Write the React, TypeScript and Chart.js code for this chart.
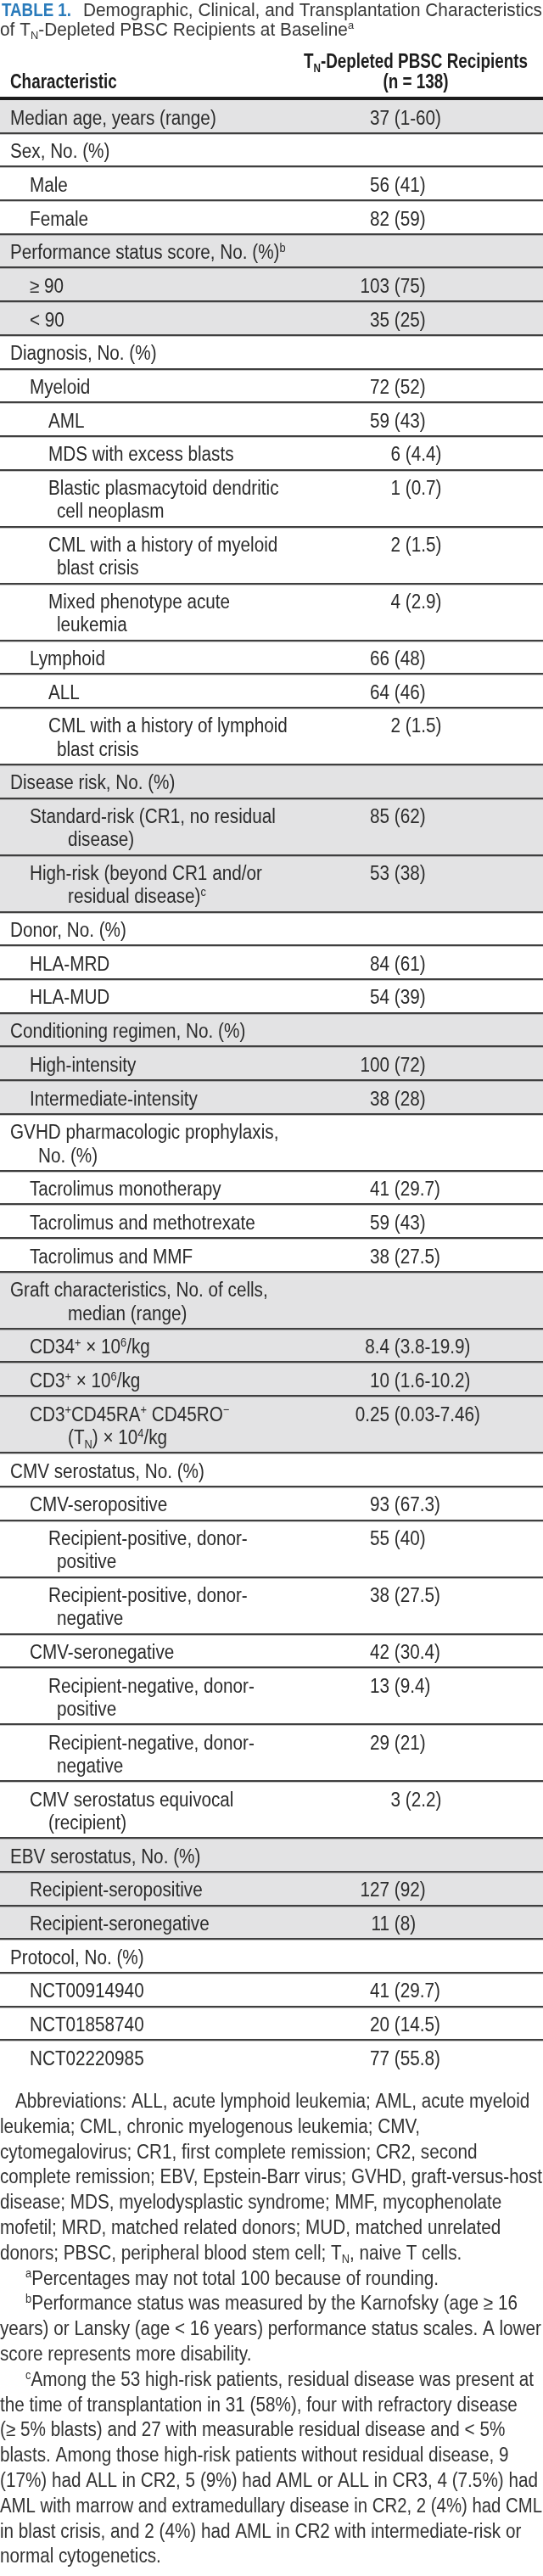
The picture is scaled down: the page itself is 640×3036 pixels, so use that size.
import React, { useEffect, useRef } from "react";
import { Chart, registerables } from "chart.js";

Chart.register(...registerables);

// ---------------- DATA ----------------
const titleLead = "TABLE 1.";
const titleLine1 = "Demographic, Clinical, and Transplantation Characteristics";
const titleLine2 = "of T_{N}-Depleted PBSC Recipients at Baseline^{a}";

const headerCharacteristic = "Characteristic";
const headerGroup = "T_{N}-Depleted PBSC Recipients";
const headerN = "(n = 138)";

const rowLabels = [
  "Median age, years (range)",
  "Sex, No. (%)",
  "Male",
  "Female",
  "Performance status score, No. (%)^{b}",
  "≥ 90",
  "< 90",
  "Diagnosis, No. (%)",
  "Myeloid",
  "AML",
  "MDS with excess blasts",
  "Blastic plasmacytoid dendritic\ncell neoplasm",
  "CML with a history of myeloid\nblast crisis",
  "Mixed phenotype acute\nleukemia",
  "Lymphoid",
  "ALL",
  "CML with a history of lymphoid\nblast crisis",
  "Disease risk, No. (%)",
  "Standard-risk (CR1, no residual\ndisease)",
  "High-risk (beyond CR1 and/or\nresidual disease)^{c}",
  "Donor, No. (%)",
  "HLA-MRD",
  "HLA-MUD",
  "Conditioning regimen, No. (%)",
  "High-intensity",
  "Intermediate-intensity",
  "GVHD pharmacologic prophylaxis,\nNo. (%)",
  "Tacrolimus monotherapy",
  "Tacrolimus and methotrexate",
  "Tacrolimus and MMF",
  "Graft characteristics, No. of cells,\nmedian (range)",
  "CD34^{+} × 10^{6}/kg",
  "CD3^{+} × 10^{6}/kg",
  "CD3^{+}CD45RA^{+} CD45RO^{−}\n(T_{N}) × 10^{4}/kg",
  "CMV serostatus, No. (%)",
  "CMV-seropositive",
  "Recipient-positive, donor-\npositive",
  "Recipient-positive, donor-\nnegative",
  "CMV-seronegative",
  "Recipient-negative, donor-\npositive",
  "Recipient-negative, donor-\nnegative",
  "CMV serostatus equivocal\n(recipient)",
  "EBV serostatus, No. (%)",
  "Recipient-seropositive",
  "Recipient-seronegative",
  "Protocol, No. (%)",
  "NCT00914940",
  "NCT01858740",
  "NCT02220985",
];

const rowLevels = [
  0, 0, 1, 1, 0, 1, 1, 0, 1, 2, 2, 2, 2, 2, 1, 2, 2, 0, 1, 1, 0, 1, 1, 0, 1, 1,
  0, 1, 1, 1, 0, 1, 1, 1, 0, 1, 2, 2, 1, 2, 2, 1, 0, 1, 1, 0, 1, 1, 1,
];

const rowValues = [
  "37 (1-60)",
  "",
  "56 (41)",
  "82 (59)",
  "",
  "103 (75)",
  "35 (25)",
  "",
  "72 (52)",
  "59 (43)",
  "6 (4.4)",
  "1 (0.7)",
  "2 (1.5)",
  "4 (2.9)",
  "66 (48)",
  "64 (46)",
  "2 (1.5)",
  "",
  "85 (62)",
  "53 (38)",
  "",
  "84 (61)",
  "54 (39)",
  "",
  "100 (72)",
  "38 (28)",
  "",
  "41 (29.7)",
  "59 (43)",
  "38 (27.5)",
  "",
  "8.4 (3.8-19.9)",
  "10 (1.6-10.2)",
  "0.25 (0.03-7.46)",
  "",
  "93 (67.3)",
  "55 (40)",
  "38 (27.5)",
  "42 (30.4)",
  "13 (9.4)",
  "29 (21)",
  "3 (2.2)",
  "",
  "127 (92)",
  "11 (8)",
  "",
  "41 (29.7)",
  "20 (14.5)",
  "77 (55.8)",
];

const footnoteAbbrev = [
  "Abbreviations: ALL, acute lymphoid leukemia; AML, acute myeloid",
  "leukemia; CML, chronic myelogenous leukemia; CMV,",
  "cytomegalovirus; CR1, first complete remission; CR2, second",
  "complete remission; EBV, Epstein-Barr virus; GVHD, graft-versus-host",
  "disease; MDS, myelodysplastic syndrome; MMF, mycophenolate",
  "mofetil; MRD, matched related donors; MUD, matched unrelated",
  "donors; PBSC, peripheral blood stem cell; T_{N}, naive T cells.",
];
const footnoteA = ["^{a}Percentages may not total 100 because of rounding."];
const footnoteB = [
  "^{b}Performance status was measured by the Karnofsky (age ≥ 16",
  "years) or Lansky (age < 16 years) performance status scales. A lower",
  "score represents more disability.",
];
const footnoteC = [
  "^{c}Among the 53 high-risk patients, residual disease was present at",
  "the time of transplantation in 31 (58%), four with refractory disease",
  "(≥ 5% blasts) and 27 with measurable residual disease and < 5%",
  "blasts. Among those high-risk patients without residual disease, 9",
  "(17%) had ALL in CR2, 5 (9%) had AML or ALL in CR3, 4 (7.5%) had",
  "AML with marrow and extramedullary disease in CR2, 2 (4%) had CML",
  "in blast crisis, and 2 (4%) had AML in CR2 with intermediate-risk or",
  "normal cytogenetics.",
];

// ---------------- STYLE / LAYOUT ----------------
const W = 640;
const H = 3036;
const FAMILY = '"Liberation Sans", Arial, Helvetica, sans-serif';
const TEXT = "#2b2b2b";
const SHADE = "#e3e3e4";
const BLUE = "#2a7bbb";
const HEADER_BOTTOM = 117;
const TABLE_BOTTOM = 2444;
const SINGLE_ROW_PX = 39.7;
const EXTRA_LINE_PX = 27.3;
const EXTRA = EXTRA_LINE_PX / SINGLE_ROW_PX; // extra units for wrapped line
const BODY_SIZE = 23;
const BODY_SX = 0.9;
const BOLD_SX = 0.82;
const FIRST_BASE = 29.5;
const LEVEL_X = [12, 35, 57];
const WRAP_X = [80, 80, 67];
const WRAP_X_OVERRIDE: Record<number, number> = { 26: 45, 41: 57 };
const VALUE_NUM_RIGHT = 459;
const SINGLE_DIGIT_SHIFT = 13;
const HEADER_CENTER = 490;

type Seg = { t: string; k: number };
function parseRich(s: string): Seg[] {
  const out: Seg[] = [];
  const re = /(\^\{[^}]*\}|_\{[^}]*\})/g;
  let last = 0;
  let m: RegExpExecArray | null;
  while ((m = re.exec(s))) {
    if (m.index > last) out.push({ t: s.slice(last, m.index), k: 0 });
    out.push({ t: m[0].slice(2, -1), k: m[0][0] === "^" ? 1 : 2 });
    last = m.index + m[0].length;
  }
  if (last < s.length) out.push({ t: s.slice(last), k: 0 });
  return out;
}

type F = { size: number; bold?: boolean; sx: number; color: string };
function fontStr(size: number, bold?: boolean) {
  return `${bold ? "bold " : ""}${size}px ${FAMILY}`;
}
function richWidth(ctx: CanvasRenderingContext2D, s: string, f: F) {
  let w = 0;
  for (const seg of parseRich(s)) {
    const sz = seg.k ? f.size * 0.62 : f.size;
    ctx.font = fontStr(sz, f.bold);
    w += ctx.measureText(seg.t).width * f.sx;
  }
  return w;
}
function drawRich(ctx: CanvasRenderingContext2D, s: string, x: number, y: number, f: F) {
  let cx = x;
  ctx.fillStyle = f.color;
  ctx.textBaseline = "alphabetic";
  ctx.textAlign = "left";
  for (const seg of parseRich(s)) {
    const sz = seg.k ? f.size * 0.62 : f.size;
    const dy = seg.k === 1 ? -f.size * 0.36 : seg.k === 2 ? f.size * 0.2 : 0;
    ctx.font = fontStr(sz, f.bold);
    const w = ctx.measureText(seg.t).width;
    ctx.save();
    ctx.translate(cx, y + dy);
    ctx.scale(f.sx, 1);
    ctx.fillText(seg.t, 0, 0);
    ctx.restore();
    cx += w * f.sx;
  }
  return cx - x;
}

export default function App() {
  const ref = useRef<HTMLCanvasElement | null>(null);

  useEffect(() => {
    document.body.style.margin = "0";
    const canvas = ref.current;
    if (!canvas) return;

    const n = rowLabels.length;
    const lineCounts = rowLabels.map((l) => l.split("\n").length);
    const starts: number[] = [];
    const ends: number[] = [];
    let acc = 0;
    for (let i = 0; i < n; i++) {
      starts.push(acc);
      acc += 1 + (lineCounts[i] - 1) * EXTRA;
      ends.push(acc);
    }
    const total = acc;
    let group = -1;
    const shaded = rowLevels.map((lv) => {
      if (lv === 0) group++;
      return group % 2 === 0;
    });

    const datasets = rowLabels.map((lab, i) => ({
      label: lab,
      data: [[starts[i], ends[i]]],
      backgroundColor: shaded[i] ? SHADE : "#ffffff",
      borderWidth: 0,
      grouped: false,
      barPercentage: 1,
      categoryPercentage: 1,
    }));

    const tablePlugin = {
      id: "tableText",
      beforeDraw(chart: any) {
        const c = chart.ctx;
        c.save();
        c.fillStyle = "#ffffff";
        c.fillRect(0, 0, chart.width, chart.height);
        c.restore();
      },
      afterDatasetsDraw(chart: any) {
        const ctx: CanvasRenderingContext2D = chart.ctx;
        const ys = chart.scales.y;
        const area = chart.chartArea;
        ctx.save();

        // row separators
        for (let i = 0; i < n - 1; i++) {
          const py = Math.round(ys.getPixelForValue(ends[i]));
          ctx.fillStyle = "#3f3f3f";
          ctx.fillRect(0, py - 1, W, 2);
          ctx.fillStyle = "rgba(0,0,0,0.22)";
          ctx.fillRect(0, py + 1, W, 1);
        }
        // header rule
        ctx.fillStyle = "#1c1c1c";
        ctx.fillRect(0, Math.round(area.top) - 3, W, 4);

        // title
        const tBold: F = { size: 22, bold: true, sx: 1, color: BLUE };
        tBold.sx = 82 / richWidth(ctx, titleLead, { ...tBold, sx: 1 });
        drawRich(ctx, titleLead, 2, 19, tBold);
        const tReg: F = { size: 22, sx: 1, color: "#383838" };
        tReg.sx = 541 / richWidth(ctx, titleLine1, tReg);
        drawRich(ctx, titleLine1, 98, 19, tReg);
        drawRich(ctx, titleLine2, 0, 42, tReg);

        // header
        const hf: F = { size: BODY_SIZE, bold: true, sx: BOLD_SX, color: "#1d1d1d" };
        const hw1 = richWidth(ctx, headerGroup, hf);
        drawRich(ctx, headerGroup, HEADER_CENTER - hw1 / 2, 80, hf);
        const hw2 = richWidth(ctx, headerN, hf);
        drawRich(ctx, headerN, HEADER_CENTER - hw2 / 2, 104, hf);
        drawRich(ctx, headerCharacteristic, 12, 104, hf);

        // body rows
        const bf: F = { size: BODY_SIZE, sx: BODY_SX, color: TEXT };
        for (let i = 0; i < n; i++) {
          const lines = rowLabels[i].split("\n");
          lines.forEach((ln, j) => {
            const base = ys.getPixelForValue(starts[i] + j * EXTRA) + FIRST_BASE;
            const x =
              j === 0
                ? LEVEL_X[rowLevels[i]]
                : WRAP_X_OVERRIDE[i] !== undefined
                ? WRAP_X_OVERRIDE[i]
                : WRAP_X[rowLevels[i]];
            drawRich(ctx, ln, x, base, bf);
          });
          const v = rowValues[i];
          if (v) {
            const base = ys.getPixelForValue(starts[i]) + FIRST_BASE;
            const k = v.indexOf(" (");
            const num = k >= 0 ? v.slice(0, k) : v;
            const rest = k >= 0 ? v.slice(k) : "";
            const right = VALUE_NUM_RIGHT + (num.length === 1 ? SINGLE_DIGIT_SHIFT : 0);
            const nw = richWidth(ctx, num, bf);
            drawRich(ctx, num, right - nw, base, bf);
            if (rest) drawRich(ctx, rest, right, base, bf);
          }
        }

        // footnotes
        const ff: F = { size: BODY_SIZE, sx: BODY_SX, color: "#333333" };
        const paras = [
          { lines: footnoteAbbrev, indent: 18 },
          { lines: footnoteA, indent: 30 },
          { lines: footnoteB, indent: 30 },
          { lines: footnoteC, indent: 30 },
        ];
        let li = 0;
        const b0 = area.bottom + 40;
        for (const p of paras) {
          p.lines.forEach((ln, j) => {
            const x = j === 0 ? p.indent : 0;
            const w = richWidth(ctx, ln, ff);
            const avail = W - 1 - x;
            const f2 = w > avail ? { ...ff, sx: (ff.sx * avail) / w } : ff;
            drawRich(ctx, ln, x, b0 + li * 29.8, f2);
            li++;
          });
        }
        ctx.restore();
      },
    };

    const chart = new Chart(canvas, {
      type: "bar",
      data: { labels: ["rows"], datasets: datasets as any },
      options: {
        animation: false,
        responsive: true,
        maintainAspectRatio: false,
        layout: {
          padding: { top: HEADER_BOTTOM, bottom: H - TABLE_BOTTOM, left: 0, right: 0 },
        },
        plugins: {
          legend: { display: false },
          tooltip: { enabled: false },
          title: { display: false },
        },
        scales: {
          x: { display: false, grid: { display: false } },
          y: { display: false, min: 0, max: total, reverse: true, grid: { display: false } },
        },
      } as any,
      plugins: [tablePlugin],
    });

    return () => chart.destroy();
  }, []);

  return (
    <div style={{ position: "relative", width: W, height: H }}>
      <canvas ref={ref} style={{ display: "block" }} />
    </div>
  );
}
